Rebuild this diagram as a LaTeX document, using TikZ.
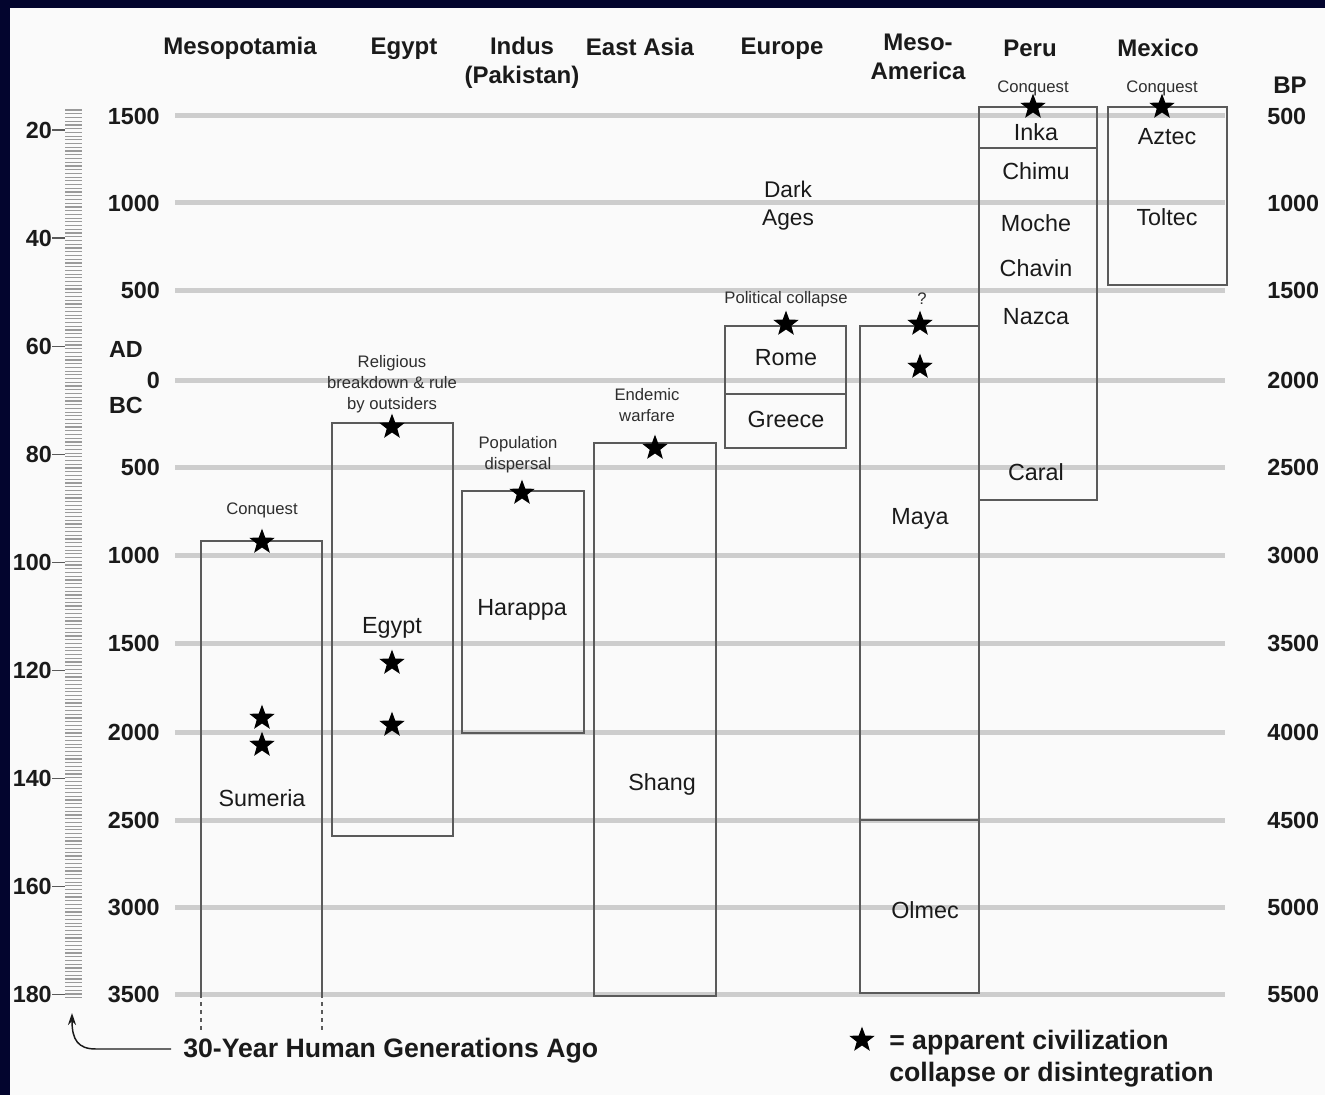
\documentclass[tikz,border=0pt]{standalone}
\usepackage{fontspec}
\setmainfont{Liberation Sans}
\usetikzlibrary{shapes.geometric,arrows.meta}
\definecolor{navy}{HTML}{03052E}
\definecolor{bgcol}{HTML}{FAFAFA}
\definecolor{gridgray}{HTML}{CDCDCD}
\definecolor{boxgray}{HTML}{5A5A5A}
\definecolor{ink}{HTML}{1A1A1A}
\definecolor{smallink}{HTML}{2E2E2E}
\definecolor{tickgray}{HTML}{9A9A9A}
\begin{document}
\begin{tikzpicture}[x=0.75pt,y=-0.75pt,
  hdr/.style={font=\fontsize{18}{21.75}\selectfont\bfseries, text=ink, align=center, inner sep=0pt},
  yr/.style={font=\fontsize{17.5}{20}\selectfont\bfseries, text=ink, inner sep=0pt},
  civtext/.style={font=\fontsize{17.5}{20}\selectfont, text=ink, inner sep=0pt, text height=0.72em, text depth=0pt},
  notetext/.style={font=\fontsize{12.5}{15.75}\selectfont, text=smallink, align=center, inner sep=0pt},
  bigbold/.style={font=\fontsize{20}{24}\selectfont\bfseries, text=ink, inner sep=0pt},
  civbox/.style={draw=boxgray, line width=1.5pt},
  gridline/.style={draw=gridgray, line width=3.75pt},
  tickline/.style={draw=tickgray, line width=0.9pt},
  gentick/.style={draw=boxgray, line width=0.9pt},
  starmark/.style={star, star points=5, star point ratio=2.4, fill=black, draw=none, minimum size=20pt, inner sep=0pt},
]
\useasboundingbox (0,0) rectangle (1325,1095);
\fill[bgcol] (0,0) rectangle (1325,1095);

% headers
\node[hdr] (hMeso) at (240,48) {Mesopotamia};
\node[hdr] (hEgypt) at (404,49) {Egypt};
\node[hdr] (hIndus) at (522,63) {Indus\\(Pakistan)};
\node[hdr] (hEast) at (640,47) {East Asia};
\node[hdr] (hEur) at (782,49) {Europe};
\node[hdr] (hMesoAm) at (918,57) {Meso-\\America};
\node[hdr] (hPeru) at (1030,48) {Peru};
\node[hdr] (hMex) at (1158,48) {Mexico};
\node[hdr] (hBP) at (1290,85) {BP};

% grid lines and year labels
\foreach \y/\l/\bp [count=\i] in {116/1500/500, 203/1000/1000, 290/500/1500, 380/0/2000, 467/500/2500, 555/1000/3000, 643/1500/3500, 732/2000/4000, 820/2500/4500, 907/3000/5000, 994/3500/5500} {
  \draw[gridline] (175,\y) -- (1225,\y);
  \node[yr, anchor=east] (yl\i) at (160,\y) {\l};
  \node[yr, anchor=west] (bp\i) at (1267,\y) {\bp};
}
\node[yr] (ad) at (126,349) {AD};
\node[yr] (bc) at (126,405) {BC};

% generation scale
\foreach \k in {0,...,238} {
  \draw[tickline] (65,{110+\k*3.73}) -- (82,{110+\k*3.73});
}
\foreach \g [count=\i] in {20,40,...,180} {
  \pgfmathsetmacro\gy{130+(\g-20)/20*108.1}
  \node[yr, anchor=east] (gl\i) at (52,\gy) {\g};
  \draw[gentick] (gl\i.east) -- (65,\gy);
}

% boxes
\draw[civbox] (201,994) -- (201,541) -- (322,541) -- (322,994);
\draw[civbox, dashed] (201,994) -- (201,1030);
\draw[civbox, dashed] (322,994) -- (322,1030);
\draw[civbox] (332,423) rectangle (453,836);
\draw[civbox] (462,491) rectangle (584,733);
\draw[civbox] (594,443) rectangle (716,996);
\draw[civbox] (725,326) rectangle (846,448);
\draw[civbox] (725,394) -- (846,394);
\draw[civbox] (860,326) rectangle (979,993);
\draw[civbox] (860,820) -- (979,820);
\draw[civbox] (979,107) rectangle (1097,500);
\draw[civbox] (979,148) -- (1097,148);
\draw[civbox] (1108,107) rectangle (1227,285);

% civilisation labels
\node[civtext] (cSum) at (262,802) {Sumeria};
\node[civtext] (cEgy) at (392,629) {Egypt};
\node[civtext] (cHar) at (522,611) {Harappa};
\node[civtext] (cSha) at (662,786) {Shang};
\node[civtext] (cRom) at (786,361) {Rome};
\node[civtext] (cGre) at (786,423) {Greece};
\node[civtext] (cMay) at (920,520) {Maya};
\node[civtext] (cOlm) at (925,914) {Olmec};
\node[civtext] (cInk) at (1036,136) {Inka};
\node[civtext] (cChi) at (1036,175) {Chimu};
\node[civtext] (cMoc) at (1036,227) {Moche};
\node[civtext] (cCha) at (1036,272) {Chavin};
\node[civtext] (cNaz) at (1036,320) {Nazca};
\node[civtext] (cCar) at (1036,476) {Caral};
\node[civtext] (cAzt) at (1167,140) {Aztec};
\node[civtext] (cTol) at (1167,221) {Toltec};
\node[font=\fontsize{17}{21}\selectfont, text=ink, align=center, inner sep=0pt] (dark) at (788,206) {Dark\\Ages};

% notes
\node[notetext] (nSum) at (262,510) {Conquest};
\node[notetext] (nEgy) at (392,384) {Religious\\breakdown \& rule\\by outsiders};
\node[notetext] (nHar) at (518,455) {Population\\dispersal};
\node[notetext] (nSha) at (647,405) {Endemic\\warfare};
\node[notetext] (nRom) at (786,299) {Political collapse};
\node[notetext] (nMay) at (922,299) {?};
\node[notetext] (nPer) at (1033,88) {Conquest};
\node[notetext] (nMex) at (1162,88) {Conquest};

% stars
\foreach \sx/\sy [count=\i] in {262/542, 262/718, 262/745, 392/427, 392/663, 392/725, 522/493, 655/448, 786/324, 920/324, 920/367, 1033/107, 1162/107} {
  \node[starmark] (st\i) at (\sx,\sy) {};
}

% bottom label and arrow
\coordinate (scaletip) at (72,1013);
\node[bigbold, anchor=west] (gen) at (183,1051) {30-Year Human Generations Ago};
\draw[draw=ink, line width=1.1pt, -{Stealth[length=9pt,width=6pt]}] (gen.west) ++(-12,-2) -- (96,1049) .. controls (78,1049) and (72,1040) .. (scaletip);

% legend
\node[starmark] (legstar) at (862,1040) {};
\node[bigbold, anchor=west, align=left] (legend) at (889,1059) {= apparent civilization\\collapse or disintegration};

% frame
\fill[navy] (0,0) rectangle (1325,8);
\fill[navy] (0,0) rectangle (10,1095);
\end{tikzpicture}
\end{document}
